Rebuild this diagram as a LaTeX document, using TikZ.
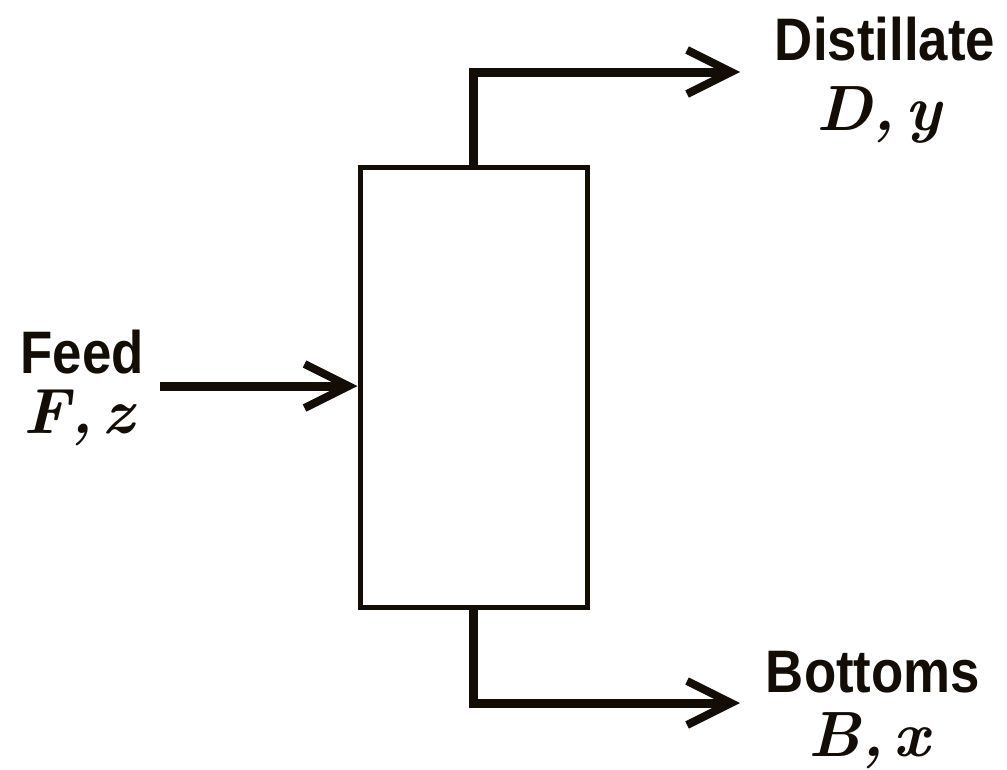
\documentclass[tikz,border=0pt]{standalone}
\usepackage{fontspec}
\setsansfont{Liberation Sans}
\usetikzlibrary{arrows.meta}
\tikzset{
  lbl/.style={font=\sffamily\bfseries\fontsize{60}{60}\selectfont, inner sep=0pt, anchor=base, xscale=0.88, text=black!90!brown},
  mth/.style={font=\rmfamily\bfseries\itshape\fontsize{64}{64}\selectfont, inner sep=0pt, anchor=base, text=black!90!brown},
  stream/.style={line width=9pt, draw=black!90!brown, -{Straight Barb[length=44pt,width=44pt,line width=8pt]}},
  column/.style={draw=black!90!brown, line width=5pt, minimum width=227pt, minimum height=440pt, inner sep=0pt}
}
\begin{document}
\begin{tikzpicture}[x=1pt,y=-1pt]
\useasboundingbox (0,0) rectangle (1007,769);
\node[column] (col) at (473.5,387) {};
\coordinate (topbend) at (473,72);
\coordinate (botbend) at (473,703);
\coordinate (dend) at (740,72);
\coordinate (bend) at (740,703);
\coordinate (fstart) at (160,386);
\draw[stream] (col.north -| topbend) -- (topbend) -- (dend);
\draw[stream] (col.south -| botbend) -- (botbend) -- (bend);
\draw[stream] (fstart) -- (col.west |- fstart);
\node[lbl] (dist) at (885,60) {Distillate};
\node[mth] (dy) at (879,130) {D,\hspace{0.15em}y};
\node[lbl] (feed) at (82,373) {Feed};
\node[mth] (fz) at (79,433) {F,\hspace{0.15em}z};
\node[lbl] (bot) at (873,692) {Bottoms};
\node[mth] (bx) at (869,756) {B,\hspace{0.15em}x};
\end{tikzpicture}
\end{document}
